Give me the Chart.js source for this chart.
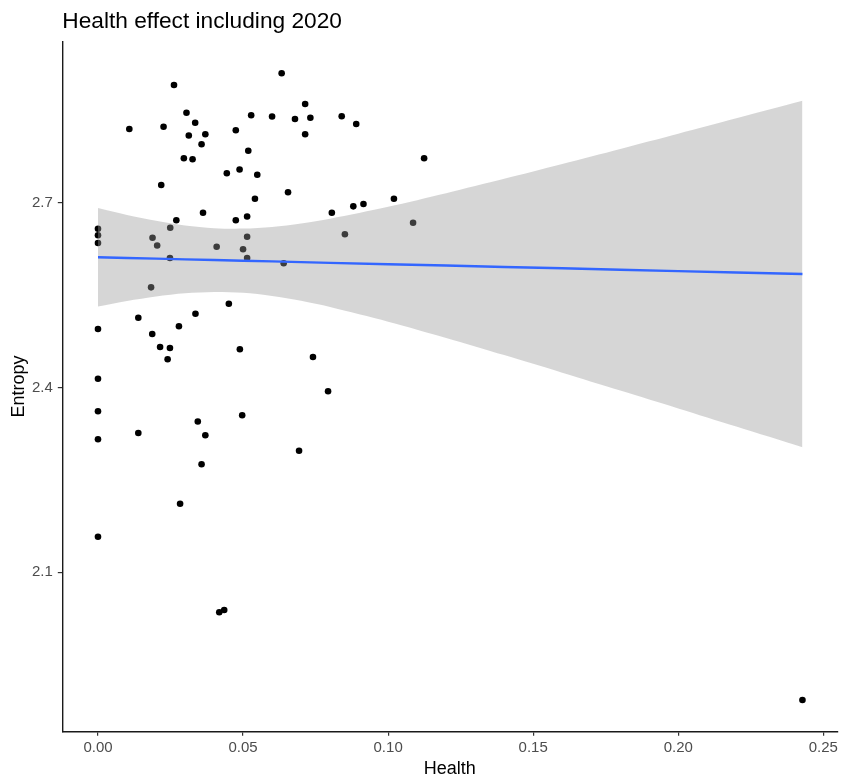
<!DOCTYPE html>
<html>
<head>
<meta charset="utf-8">
<script src="https://cdn.jsdelivr.net/npm/chart.js@4"></script>
<style>
  html, body { margin: 0; padding: 0; background: #ffffff; }
  #wrap { width: 841px; height: 783px; }
</style>
</head>
<body>
<div id="wrap"><canvas id="c" width="841" height="783"></canvas></div>
<script>
// ---- data ----
const titleText = "Health effect including 2020";
const xAxisTitle = "Health";
const yAxisTitle = "Entropy";

const health = [
  0.0633, 0.0262, 0.0305, 0.0108, 0.0226, 0.0335, 0.0313, 0.0370, 0.0357, 0.0475,
  0.0528, 0.0600, 0.0679, 0.0518, 0.0296, 0.0326, 0.0444, 0.0488, 0.0549, 0.0218,
  0.0655, 0.0541, 0.0362, 0.0270, 0.0475, 0.0514, 0.0249, 0.0000, 0.0000, 0.0000,
  0.0188, 0.0204, 0.0409, 0.0514, 0.0500, 0.0514, 0.0248, 0.0714, 0.0840, 0.0890,
  0.0732, 0.0714, 0.1124, 0.1020, 0.0915, 0.0880, 0.0806, 0.0851, 0.1086, 0.0640,
  0.0489, 0.0741, 0.0793, 0.0497, 0.0693, 0.0000, 0.0139, 0.0187, 0.0279, 0.0336,
  0.0451, 0.0214, 0.0248, 0.0240, 0.0000, 0.0000, 0.0000, 0.0139, 0.0344, 0.0370,
  0.0357, 0.0283, 0.0000, 0.0418, 0.0435, 0.0183, 0.2428
];
const entropy = [
  2.9107, 2.8917, 2.8467, 2.8202, 2.8240, 2.8303, 2.8097, 2.8118, 2.7954, 2.8181,
  2.8426, 2.8405, 2.8365, 2.7850, 2.7726, 2.7710, 2.7483, 2.7544, 2.7460, 2.7292,
  2.7174, 2.7068, 2.6842, 2.6719, 2.6719, 2.6781, 2.6599, 2.6581, 2.6475, 2.6350,
  2.6436, 2.6310, 2.6290, 2.6452, 2.6248, 2.6106, 2.6106, 2.8608, 2.8409, 2.8284,
  2.8386, 2.8118, 2.7726, 2.7068, 2.6984, 2.6946, 2.6842, 2.6493, 2.6680, 2.6020,
  2.4623, 2.4498, 2.3941, 2.3552, 2.2976, 2.4953, 2.5136, 2.4872, 2.4997, 2.5201,
  2.5364, 2.4660, 2.4644, 2.4461, 2.4145, 2.3616, 2.3161, 2.3263, 2.3450, 2.3226,
  2.2755, 2.2115, 2.1578, 2.0350, 2.0387, 2.5630, 1.8925
];

// smoother line and its confidence band, read at these x positions
const bandX     = [0, 0.01, 0.02, 0.03, 0.04, 0.05, 0.06, 0.07, 0.08, 0.10, 0.12, 0.14, 0.16, 0.18, 0.20, 0.22, 0.2428];
const fitY      = [2.6118, 2.6107, 2.6096, 2.6084, 2.6073, 2.6062, 2.6051, 2.6040, 2.6028, 2.6006, 2.5984, 2.5961, 2.5939, 2.5916, 2.5894, 2.5872, 2.5846];
const bandUpper = [2.6918, 2.6806, 2.6710, 2.6634, 2.6591, 2.6584, 2.6612, 2.6669, 2.6746, 2.6940, 2.7160, 2.7393, 2.7634, 2.7878, 2.8125, 2.8375, 2.8660];
const bandLower = [2.5318, 2.5408, 2.5482, 2.5534, 2.5555, 2.5540, 2.5490, 2.5411, 2.5310, 2.5072, 2.4808, 2.4529, 2.4244, 2.3954, 2.3663, 2.3369, 2.3032];

const xTickValues = [0, 0.05, 0.10, 0.15, 0.20, 0.25];
const xTickLabels = ["0.00", "0.05", "0.10", "0.15", "0.20", "0.25"];
const yTickValues = [2.1, 2.4, 2.7];
const yTickLabels = ["2.1", "2.4", "2.7"];

const xRange = [-0.0123, 0.2548];
const yRange = [1.8417, 2.9620];

// ---- build chart ----
const pts = health.map((h, i) => ({ x: h, y: entropy[i] }));
const toXY = (ys) => bandX.map((x, i) => ({ x: x, y: ys[i] }));

const FONT = "'Liberation Sans', Arial, Helvetica, sans-serif";

new Chart(document.getElementById('c'), {
  type: 'scatter',
  data: {
    datasets: [
      {
        type: 'line',
        label: 'fit',
        data: toXY(fitY),
        borderColor: '#3366FF',
        borderWidth: 2.4,
        pointRadius: 0,
        fill: false,
        tension: 0,
        order: 0
      },
      {
        type: 'line',
        label: 'upper',
        data: toXY(bandUpper),
        borderWidth: 0,
        borderColor: 'rgba(0,0,0,0)',
        pointRadius: 0,
        backgroundColor: 'rgba(153,153,153,0.4)',
        fill: '+1',
        tension: 0.3,
        order: 1
      },
      {
        type: 'line',
        label: 'lower',
        data: toXY(bandLower),
        borderWidth: 0,
        borderColor: 'rgba(0,0,0,0)',
        pointRadius: 0,
        fill: false,
        tension: 0.3,
        order: 1
      },
      {
        label: 'points',
        data: pts,
        pointRadius: 3.3,
        pointBackgroundColor: '#000000',
        pointBorderWidth: 0,
        borderColor: '#000000',
        order: 2
      }
    ]
  },
  options: {
    responsive: false,
    animation: false,
    devicePixelRatio: 1,
    events: [],
    layout: { autoPadding: false, padding: { left: 0, right: 3, top: 0, bottom: 0 } },
    plugins: {
      legend: { display: false },
      tooltip: { enabled: false },
      title: {
        display: true,
        text: titleText,
        align: 'start',
        fullSize: false,
        color: '#000000',
        font: { family: FONT, size: 22.7, weight: 'normal', lineHeight: 1.2 },
        padding: { top: 8.6, bottom: 5.9 }
      }
    },
    scales: {
      x: {
        type: 'linear',
        position: 'bottom',
        min: xRange[0],
        max: xRange[1],
        afterBuildTicks: (s) => { s.ticks = xTickValues.map(v => ({ value: v })); },
        afterFit: (s) => { s.height = 51.7; },
        ticks: {
          autoSkip: false,
          maxRotation: 0,
          padding: 3,
          color: '#4D4D4D',
          font: { family: FONT, size: 15, lineHeight: 1.2 },
          callback: (v, i) => xTickLabels[i]
        },
        grid: {
          drawOnChartArea: false,
          drawTicks: true,
          tickLength: 4.5,
          color: '#333333',
          lineWidth: 1.2
        },
        border: { display: true, color: '#1a1a1a', width: 1.4 },
        title: {
          display: true,
          text: xAxisTitle,
          color: '#000000',
          font: { family: FONT, size: 18, lineHeight: 1.2 },
          padding: { top: 0, bottom: 3.5 }
        }
      },
      y: {
        type: 'linear',
        position: 'left',
        min: yRange[0],
        max: yRange[1],
        afterBuildTicks: (s) => { s.ticks = yTickValues.map(v => ({ value: v })); },
        afterFit: (s) => { s.width = 62.3; },
        ticks: {
          autoSkip: false,
          padding: 5,
          color: '#4D4D4D',
          font: { family: FONT, size: 15, lineHeight: 1.2 },
          callback: (v, i) => yTickLabels[i]
        },
        grid: {
          drawOnChartArea: false,
          drawTicks: true,
          tickLength: 4.5,
          color: '#333333',
          lineWidth: 1.2
        },
        border: { display: true, color: '#1a1a1a', width: 1.4 },
        title: {
          display: true,
          text: yAxisTitle,
          color: '#000000',
          font: { family: FONT, size: 18, lineHeight: 1.2 },
          padding: { top: 8, bottom: 0 }
        }
      }
    }
  }
});
</script>
</body>
</html>
